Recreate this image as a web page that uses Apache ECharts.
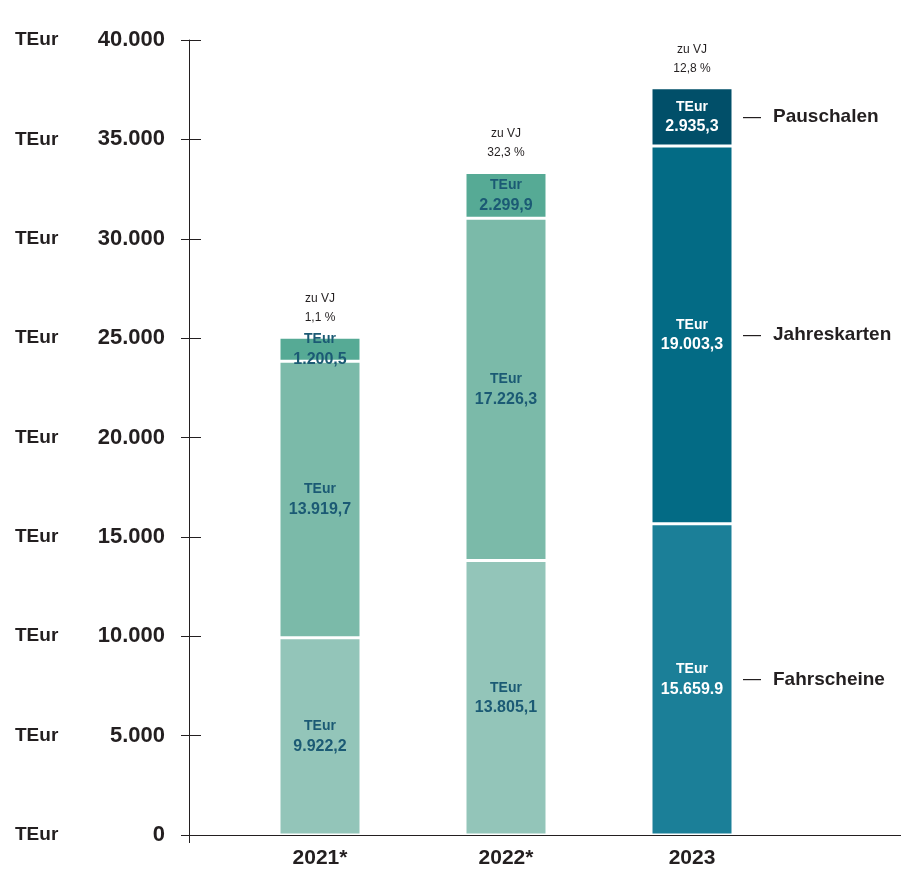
<!DOCTYPE html>
<html>
<head>
<meta charset="utf-8">
<script src="https://cdn.jsdelivr.net/npm/echarts@6/dist/echarts.min.js"></script>
<style>
  html, body { margin: 0; padding: 0; background: #ffffff; }
  #chart { width: 901px; height: 871px; }
</style>
</head>
<body>
<div id="chart"></div>
<script>
// Umsatzerlöse nach Ticketart, in TEur
const years = ['2021*', '2022*', '2023'];
const fahrscheine = [9922.2, 13805.1, 15659.9];
const jahreskarten = [13919.7, 17226.3, 19003.3];
const pauschalen = [1200.5, 2299.9, 2935.3];
const fahrscheineText = ['9.922,2', '13.805,1', '15.659.9'];
const jahreskartenText = ['13.919,7', '17.226,3', '19.003,3'];
const pauschalenText = ['1.200,5', '2.299,9', '2.935,3'];
const zuVJ = ['1,1 %', '32,3 %', '12,8 %'];
const yTicks = { min: 0, max: 40000, interval: 5000 };
const seriesNames = ['Fahrscheine', 'Jahreskarten', 'Pauschalen'];

// Farben: 2021/2022 in Grüntönen, 2023 in Petrol
const colors = {
  Fahrscheine: ['#93c5b9', '#93c5b9', '#1b7f98'],
  Jahreskarten: ['#7bbaa9', '#7bbaa9', '#036b85'],
  Pauschalen: ['#56aa95', '#56aa95', '#014f69']
};
const labelColors = ['#1b5a74', '#1b5a74', '#ffffff'];

const FONT = '"Liberation Sans", Arial, Helvetica, sans-serif';
const INK = '#231f20';

function fmtThousands(v) {
  return String(v).replace(/\B(?=(\d{3})+(?!\d))/g, '.');
}

function segmentSeries(name, values, texts) {
  return {
    name: name,
    type: 'bar',
    stack: 'umsatz',
    xAxisIndex: 1,
    yAxisIndex: 2,
    barWidth: 82,
    data: values.map((v, i) => ({
      value: v,
      itemStyle: { color: colors[name][i] },
      label: { color: labelColors[i] }
    })),
    itemStyle: { borderColor: '#ffffff', borderWidth: 1.5 },
    label: {
      show: true,
      position: 'inside',
      fontFamily: FONT,
      fontWeight: 'bold',
      formatter: p => '{a|TEur}\n{b|' + texts[p.dataIndex] + '}',
      rich: {
        a: { fontFamily: FONT, fontWeight: 'bold', fontSize: 14, lineHeight: 20 },
        b: { fontFamily: FONT, fontWeight: 'bold', fontSize: 16, lineHeight: 20 }
      }
    },
    emphasis: { disabled: true },
    silent: true
  };
}

// Mitte jedes Segments der Säule 2023 als Ankerpunkt der Beschriftung rechts
const last = years.length - 1;
const mids = [
  fahrscheine[last] / 2,
  fahrscheine[last] + jahreskarten[last] / 2,
  fahrscheine[last] + jahreskarten[last] + pauschalen[last] / 2
];

const option = {
  animation: false,
  backgroundColor: '#ffffff',
  grid: [
    { left: 189, right: 0, top: 40, bottom: 36 },
    { left: 227, right: 116, top: 40, bottom: 36 }
  ],
  xAxis: [
    {
      type: 'value', gridIndex: 0, min: 0, max: 1, interval: 1,
      axisLine: { show: true, lineStyle: { color: INK, width: 1 } },
      axisTick: { show: true, length: 8, lineStyle: { color: INK } },
      axisLabel: { show: false },
      splitLine: { show: false }
    },
    {
      type: 'category', gridIndex: 1, data: years,
      axisLine: { show: false },
      axisTick: { show: false },
      axisLabel: {
        margin: 13, color: INK, fontFamily: FONT, fontWeight: 'bold', fontSize: 21
      }
    }
  ],
  yAxis: [
    {
      type: 'value', gridIndex: 0, position: 'left',
      min: yTicks.min, max: yTicks.max, interval: yTicks.interval,
      axisLine: { show: true, lineStyle: { color: INK, width: 1 } },
      axisTick: { show: true, length: 8, lineStyle: { color: INK } },
      splitLine: { show: false },
      axisLabel: {
        margin: 24,
        formatter: v => '{u|TEur}{v|' + fmtThousands(v) + '}',
        rich: {
          u: { width: 80, align: 'left', color: INK, fontFamily: FONT, fontWeight: 'bold', fontSize: 19 },
          v: { width: 70, align: 'right', color: INK, fontFamily: FONT, fontWeight: 'bold', fontSize: 22 }
        }
      }
    },
    {
      type: 'value', gridIndex: 0, position: 'left',
      min: yTicks.min, max: yTicks.max, interval: yTicks.interval,
      axisLine: { show: false },
      axisTick: { show: true, inside: true, length: 12, lineStyle: { color: INK } },
      axisLabel: { show: false },
      splitLine: { show: false }
    },
    {
      type: 'value', gridIndex: 1, show: false,
      min: yTicks.min, max: yTicks.max, interval: yTicks.interval,
      splitLine: { show: false }
    }
  ],
  series: [
    segmentSeries('Fahrscheine', fahrscheine, fahrscheineText),
    segmentSeries('Jahreskarten', jahreskarten, jahreskartenText),
    segmentSeries('Pauschalen', pauschalen, pauschalenText),
    {
      // Veränderung zum Vorjahr über jeder Säule
      name: 'zu VJ',
      type: 'bar',
      stack: 'umsatz',
      xAxisIndex: 1,
      yAxisIndex: 2,
      barWidth: 82,
      data: years.map(() => 0),
      itemStyle: { color: 'rgba(0,0,0,0)', borderWidth: 0 },
      label: {
        show: true,
        position: 'top',
        distance: 10,
        color: INK,
        fontFamily: FONT,
        fontSize: 12,
        lineHeight: 19,
        formatter: p => 'zu VJ\n' + zuVJ[p.dataIndex]
      },
      silent: true
    },
    {
      // Ticketarten rechts neben der Säule 2023
      name: 'Beschriftung',
      type: 'scatter',
      xAxisIndex: 1,
      yAxisIndex: 2,
      symbolSize: 0,
      itemStyle: { opacity: 1 },
      data: mids.map((m, i) => ({ value: [years[last], m], name: seriesNames[i] })),
      label: {
        show: true,
        position: 'right',
        distance: 51,
        opacity: 1,
        formatter: p => '{d|—}{n|' + p.name + '}',
        rich: {
          d: { color: INK, fontFamily: FONT, fontSize: 18, padding: [0, 12, 0, 0] },
          n: { color: INK, fontFamily: FONT, fontWeight: 'bold', fontSize: 19 }
        }
      },
      emphasis: { disabled: true },
      silent: true
    }
  ]
};

const chart = echarts.init(document.getElementById('chart'), null, { renderer: 'canvas' });
chart.setOption(option);
</script>
</body>
</html>
